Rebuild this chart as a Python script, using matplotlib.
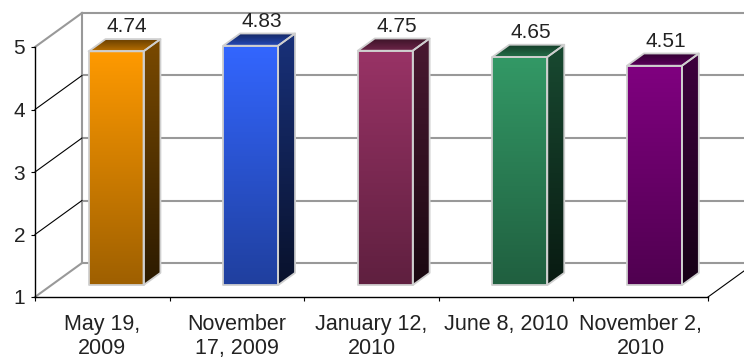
import matplotlib
matplotlib.use('Agg')
import matplotlib.pyplot as plt
import numpy as np
from matplotlib.patches import Polygon
from matplotlib.colors import to_rgb

plt.rcParams['font.family'] = ['Liberation Sans', 'DejaVu Sans']

categories = ["May 19,\n2009", "November\n17, 2009", "January 12,\n2010",
              "June 8, 2010", "November 2,\n2010"]
values = [4.74, 4.83, 4.75, 4.65, 4.51]
value_labels = ["4.74", "4.83", "4.75", "4.65", "4.51"]
y_ticks = [1, 2, 3, 4, 5]
base_colors = ['#FF9A00', '#3366FF', '#993366', '#339966', '#800080']

W, H = 744, 360
fig = plt.figure(figsize=(W / 100, H / 100), dpi=100)
ax = fig.add_axes([35 / W, 63 / H, 673 / W, 250 / H])
ax.set_xlim(0, 5)
ax.set_ylim(1, 5)
ax.patch.set_visible(False)

# depth offsets in data units
DX = 47 / 134.6
DY = 34 / 62.5
D0, D1 = 0.35, 0.71
HALF_W = 0.204
SHIFT = -0.02
TXT = '#222222'
GRID = '#999999'


def P(x, v, d):
    return (x + d * DX, v + d * DY)


# back wall / grid
ax.plot([DX, DX], [1 + DY, 5 + DY], color=GRID, lw=1.5, clip_on=False, zorder=1)
for v in y_ticks:
    ax.plot([DX, 5.6], [v + DY, v + DY], color=GRID, lw=1.5, clip_on=False, zorder=1)
    col = GRID if v in (1, 5) else 'black'
    lw = 1.5 if v in (1, 5) else 0.8
    ax.plot([0, DX], [v, v + DY], color=col, lw=lw, clip_on=False, zorder=1)
ax.plot([5, 5 + DX], [1, 1 + DY], color='black', lw=0.8, clip_on=False, zorder=1)


def scale(c, f):
    r, g, b = to_rgb(c)
    return np.array([r * f, g * f, b * f])


def grad_face(pts, c_start, c_end, z=3):
    """Fill polygon pts with a vertical gradient (top=c_start, bottom=c_end)."""
    pts = np.array(pts)
    poly = Polygon(pts, closed=True, facecolor='none', edgecolor='none')
    ax.add_patch(poly)
    poly.set_clip_on(False)
    t = np.linspace(0, 1, 256)[:, None]
    img = (c_start[None, :] * (1 - t) + c_end[None, :] * t)[:, None, :]
    x0, x1 = pts[:, 0].min(), pts[:, 0].max()
    y0, y1 = pts[:, 1].min(), pts[:, 1].max()
    im = ax.imshow(img, extent=(x0, x1, y0, y1), origin='upper', aspect='auto',
                   interpolation='bilinear', zorder=z)
    im.set_clip_box(fig.bbox)
    im.set_clip_path(poly)


for i, v in enumerate(values):
    c = i + 0.5 + SHIFT
    xl, xr = c - HALF_W, c + HALF_W
    base = base_colors[i]
    front_top, front_bot = scale(base, 1.0), scale(base, 0.62)
    side_top, side_bot = scale(base, 0.48), scale(base, 0.17)
    top_back, top_front = scale(base, 0.38), scale(base, 0.72)

    side = [P(xr, 1, D0), P(xr, 1, D1), P(xr, v, D1), P(xr, v, D0)]
    top = [P(xl, v, D0), P(xr, v, D0), P(xr, v, D1), P(xl, v, D1)]
    front = [P(xl, 1, D0), P(xr, 1, D0), P(xr, v, D0), P(xl, v, D0)]

    grad_face(side, side_top, side_bot, z=3)
    grad_face(top, top_back, top_front, z=3)
    grad_face(front, front_top, front_bot, z=4)

    edge = dict(closed=True, fill=False, edgecolor='#cfcfcf', lw=1.3,
                clip_on=False, zorder=5, joinstyle='round')
    for pts in (front, side, top):
        ax.add_patch(Polygon(pts, **edge))

    lx, _ = P(i + 0.5, v, 0.53)
    ax.annotate(value_labels[i], xy=(lx, v + D1 * DY), xytext=(0, 5),
                textcoords='offset points', ha='center', va='baseline',
                fontsize=15, color=TXT, annotation_clip=False, zorder=6)

# front axes
for s in ['top', 'right']:
    ax.spines[s].set_visible(False)
for s in ['left', 'bottom']:
    ax.spines[s].set_color('black')
    ax.spines[s].set_linewidth(1.0)
    ax.spines[s].set_zorder(6)

ax.set_yticks(y_ticks)
ax.set_yticklabels([str(t) for t in y_ticks])
ax.set_xticks(np.arange(6))
ax.set_xticklabels([])
ax.set_xticks(np.arange(5) + 0.5, minor=True)
ax.set_xticklabels(categories, minor=True)
ax.tick_params(axis='x', which='major', length=3, width=0.8, direction='out')
ax.tick_params(axis='x', which='minor', length=0, pad=12, labelsize=15.5, labelcolor=TXT)
ax.tick_params(axis='y', length=3, width=0.8, pad=4, labelsize=15, labelcolor=TXT)
for t in ax.get_xticklabels(minor=True):
    t.set_linespacing(1.22)

fig.savefig('out.png', dpi=100)
